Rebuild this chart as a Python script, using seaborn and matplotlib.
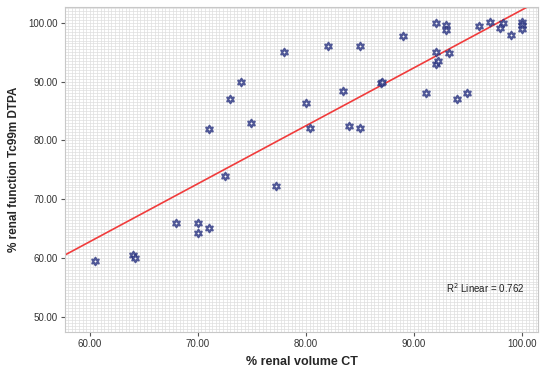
import numpy as np
import pandas as pd
import matplotlib
matplotlib.use("Agg")
import matplotlib.pyplot as plt
from matplotlib.ticker import MultipleLocator, FormatStrFormatter
import seaborn as sns

# values
volume_ct = [60.5, 64.0, 64.2, 68.0, 70.0, 70.0, 71.0,
             71.0, 73.0, 74.0, 74.9, 72.5, 77.2, 78.0,
             80.0, 80.4, 82.0, 83.4, 84.0, 85.0, 85.0,
             86.9, 87.0, 89.0, 91.1, 92.0, 92.0, 92.0, 92.2,
             93.0, 93.0, 93.2, 94.0, 94.9, 96.0, 97.0,
             98.2, 98.0, 99.0, 100.0, 100.0, 100.0]
function_dtpa = [59.5, 60.5, 60.0, 66.0, 66.0, 64.2, 65.1,
                 82.0, 87.0, 90.0, 83.0, 74.0, 72.3, 95.0,
                 86.3, 82.1, 96.0, 88.4, 82.5, 96.0, 82.2,
                 89.8, 90.0, 97.7, 88.1, 100.0, 95.0, 93.0, 93.5,
                 99.6, 98.8, 94.9, 87.0, 88.1, 99.5, 100.1,
                 100.0, 99.1, 98.0, 100.2, 99.6, 99.0]
r2_label = "R$^2$ Linear = 0.762"

df = pd.DataFrame({"volume": volume_ct, "function": function_dtpa})

sns.set_style("white")
plt.rcParams["font.family"] = ["Liberation Sans", "DejaVu Sans"]

fig = plt.figure(figsize=(5.41, 3.69), dpi=100)
ax = fig.add_axes([0.120, 0.100, 0.875, 0.881])

# limits first so the fit line spans the whole plot area
ax.set_xlim(57.7, 101.5)
ax.set_ylim(47.4, 102.7)

star = (6, 1, 0)
sns.regplot(data=df, x="volume", y="function", ax=ax, ci=None, truncate=False,
            marker=star,
            scatter_kws={"s": 30, "facecolors": "white", "edgecolors": "#26307e",
                         "linewidths": 1.5, "zorder": 3},
            line_kws={"color": "#f03c3c", "linewidth": 1.2, "zorder": 2})

ax.set_xlim(57.7, 101.5)
ax.set_ylim(47.4, 102.7)

ax.xaxis.set_major_locator(MultipleLocator(10))
ax.yaxis.set_major_locator(MultipleLocator(10))
ax.xaxis.set_minor_locator(MultipleLocator(1 / 3))
ax.yaxis.set_minor_locator(MultipleLocator(0.5))
ax.xaxis.set_major_formatter(FormatStrFormatter("%.2f"))
ax.yaxis.set_major_formatter(FormatStrFormatter("%.2f"))
ax.grid(which="both", color="#dedede", linewidth=0.5)
ax.set_axisbelow(True)

ax.tick_params(axis="both", which="major", labelsize=7, labelcolor="#333333",
               length=3, width=0.8, color="#555555", direction="out",
               bottom=True, left=True, pad=2)
ax.tick_params(which="minor", length=0)

for s in ax.spines.values():
    s.set_color("#c8c8c8")
    s.set_linewidth(0.8)

ax.set_xlabel("% renal volume CT", fontsize=9, fontweight="bold", labelpad=5)
ax.set_ylabel("% renal function Tc99m DTPA", fontsize=8.5, fontweight="bold", labelpad=6)

ax.text(93.0, 54.9, r2_label, fontsize=7, color="#222222", va="center")

fig.savefig("out.png", dpi=100)
